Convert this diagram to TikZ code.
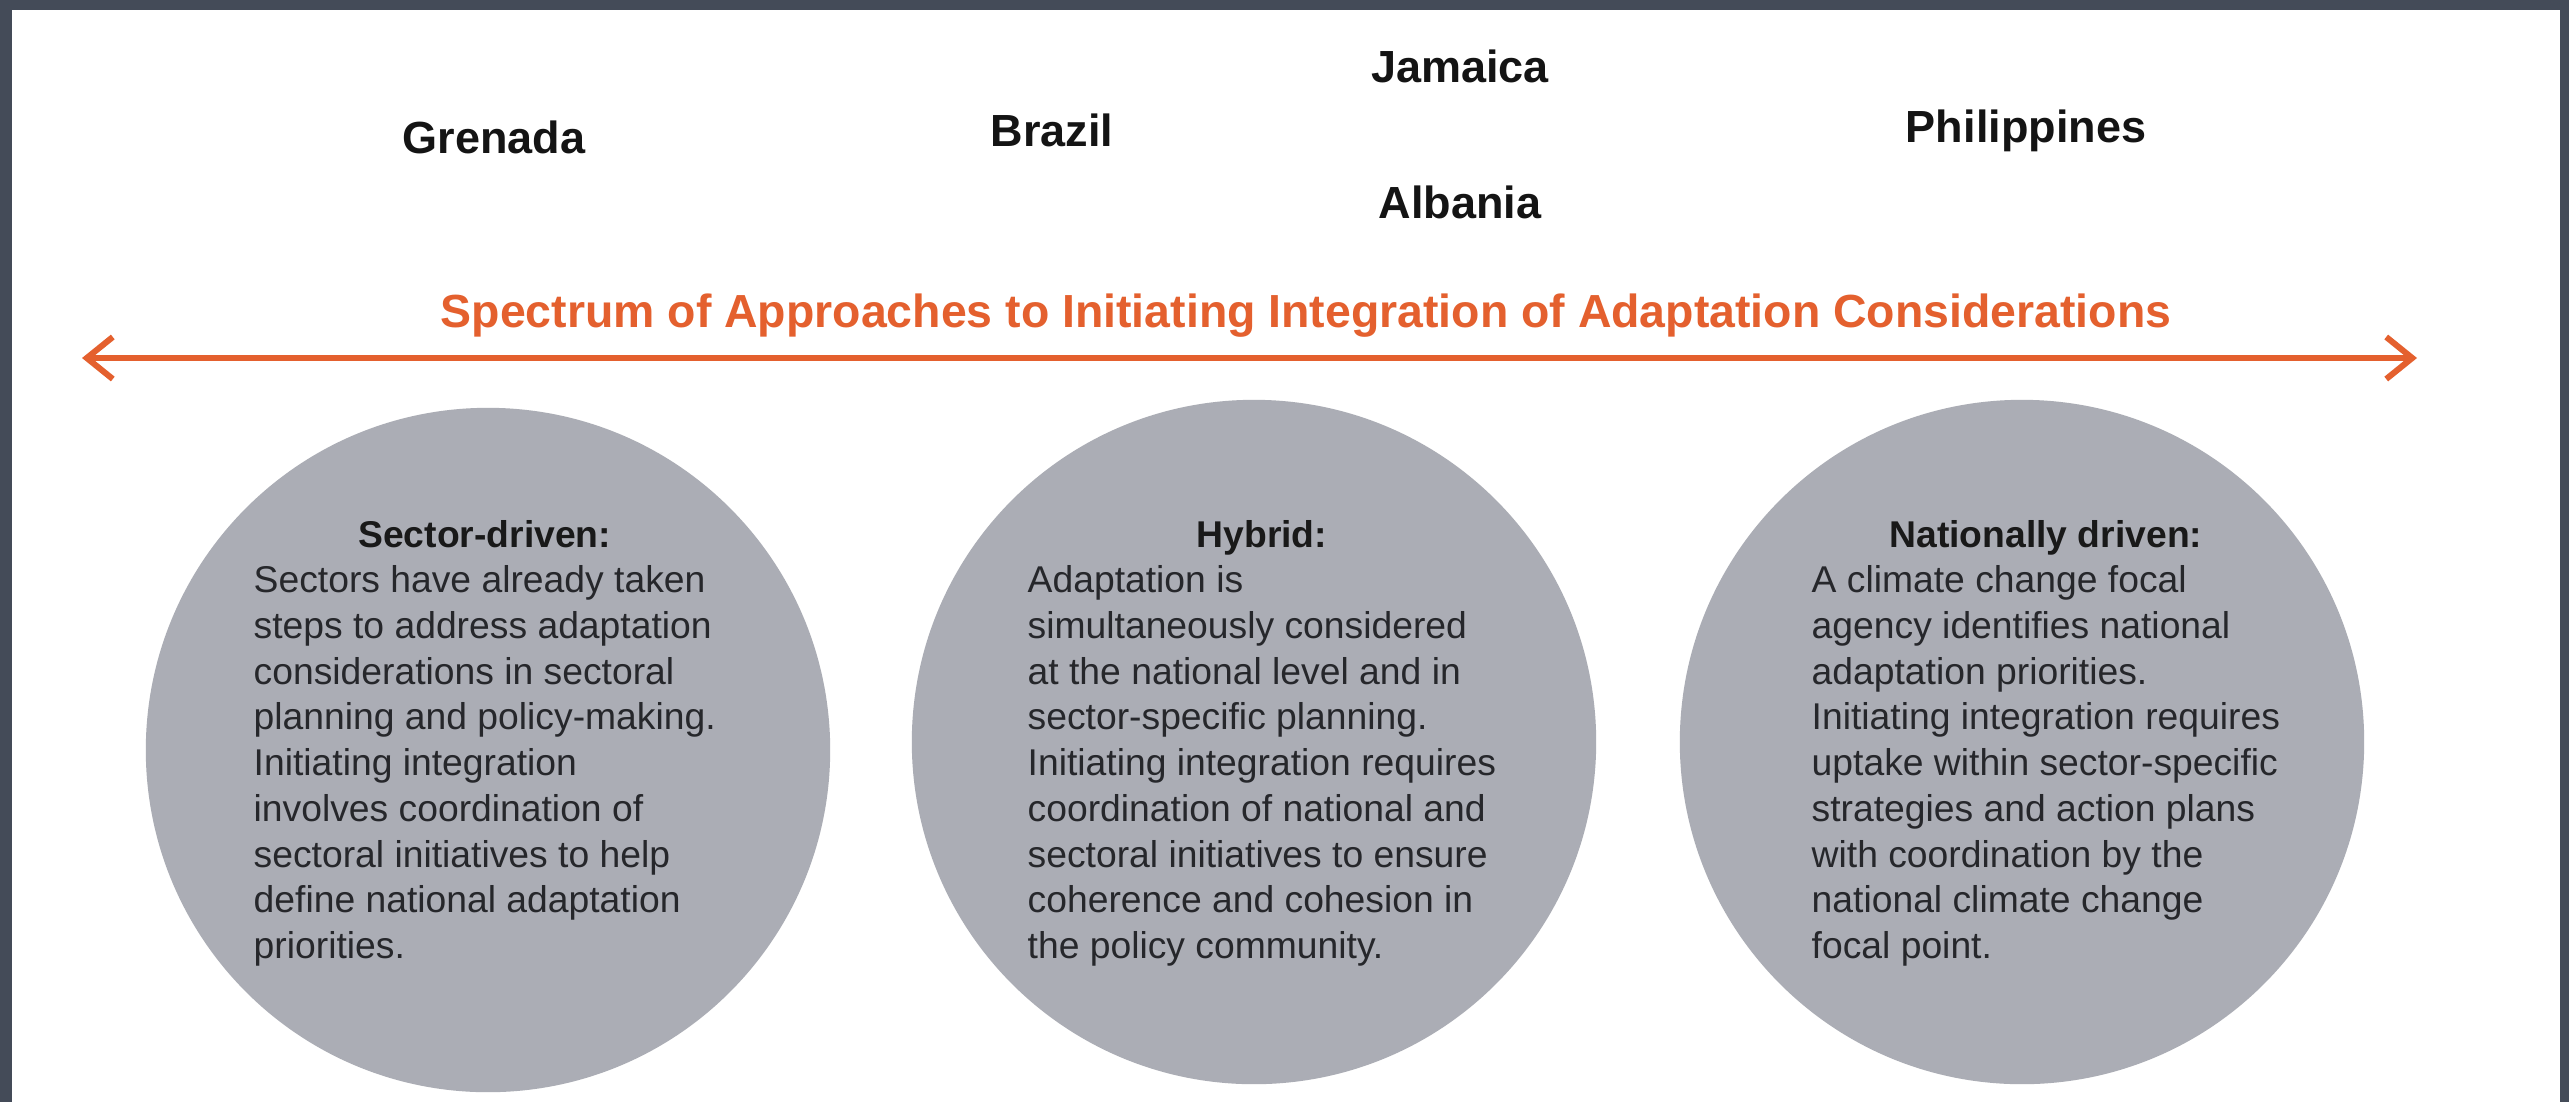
\documentclass[tikz,border=0pt]{standalone}
\usepackage{fontspec}
\setmainfont{Liberation Sans}
\usetikzlibrary{positioning, arrows.meta}

\definecolor{framegray}{HTML}{444B58}
\definecolor{spectrum}{HTML}{E4602E}
\definecolor{discgray}{HTML}{ABADB5}
\definecolor{inkgray}{HTML}{26272B}

\tikzset{
  country/.style={font=\fontsize{12.8}{15}\selectfont\bfseries, text=black!92, inner sep=0pt, anchor=base},
  approach/.style={circle, fill=discgray, minimum size=6.84cm, inner sep=0pt},
  blurb/.style={font=\fontsize{10.6}{13}\selectfont, text=inkgray, align=left, inner sep=0pt, anchor=north west},
  heading/.style={font=\fontsize{10.6}{13}\selectfont\bfseries, text=black!90, inner sep=0pt, anchor=base},
  barb/.tip={Straight Barb[length=0.26cm, width=0.42cm]}
}

\begin{document}
\begin{tikzpicture}[x=0.01cm, y=-0.01cm]
                \useasboundingbox (0,0) rectangle (2569,1102);
                \fill [framegray] (0,0) rectangle (2569,1102);
                \fill [white] (12,10) rectangle (2560,1102);
                \node [country] (grenada) at (494,153) {Grenada};
                \node [country] (brazil) at (1052,146) {Brazil};
                \node [country] (jamaica) at (1460,82) {Jamaica};
                \node [country] (albania) at (1460,218) {Albania};
                \node [country] (philippines) at (2026,142) {Philippines};
                \node [font=\fontsize{13.2}{15}\selectfont\bfseries, text=spectrum, inner sep=0pt, anchor=base] (title) at (1306,327) {Spectrum of Approaches to Initiating Integration of Adaptation Considerations};
                \coordinate (left) at (82,358);
                \coordinate (right) at (2417,358);
                \draw [spectrum, line width=0.06cm, barb-barb] (left) -- (right);
                \node [approach] (sector) at (488,750) {};
                \node [approach] (hybrid) at (1254,742) {};
                \node [approach] (national) at (2022,742) {};
                \node [blurb] (sectortext) at (253,565) {Sectors have already taken\\ steps to address adaptation\\ considerations in sectoral\\
                    planning and policy-making.\\ Initiating integration\\ involves coordination of\\
                    sectoral initiatives to help\\ define national adaptation\\ priorities.};
                \node [blurb] (hybridtext) at (1027,565) {Adaptation is\\ simultaneously considered\\ at the national level and in\\
                    sector-specific planning.\\ Initiating integration requires\\ coordination of national and\\
                    sectoral initiatives to ensure\\ coherence and cohesion in\\ the policy community.};
                \node [blurb] (nationaltext) at (1811,565) {A climate change focal\\ agency identifies national\\ adaptation priorities.\\
                    Initiating integration requires\\ uptake within sector-specific\\ strategies and action plans\\
                    with coordination by the\\ national climate change\\ focal point.};
                \node [heading] (sectorhead) at ([yshift=0.18cm] sectortext.north) {Sector-driven:};
                \node [heading] (hybridhead) at ([yshift=0.18cm] hybridtext.north) {Hybrid:};
                \node [heading] (nationalhead) at ([yshift=0.18cm] nationaltext.north) {Nationally driven:};
            \end{tikzpicture}
\end{document}
